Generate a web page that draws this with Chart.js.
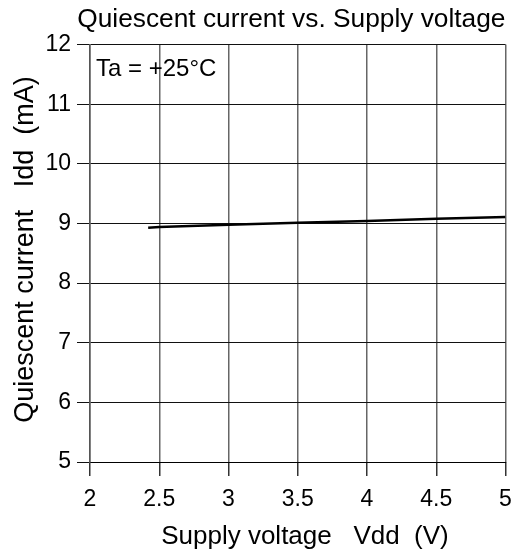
<!DOCTYPE html>
<html>
<head>
<meta charset="utf-8">
<script src="https://cdn.jsdelivr.net/npm/chart.js@4.4.1/dist/chart.umd.min.js"></script>
<style>
  html, body { margin: 0; padding: 0; background: #fff; }
  #wrap { width: 520px; height: 555px; }
</style>
</head>
<body>
<div id="wrap"><canvas id="myChart" width="520" height="555"></canvas></div>
<script>
// supply voltage (V) and quiescent current (mA)
var vdd = [2.42, 2.5, 3, 3.5, 4, 4.5, 5];
var idd = [8.93, 8.94, 8.98, 9.01, 9.04, 9.08, 9.11];
var xTicks = [2, 2.5, 3, 3.5, 4, 4.5, 5];
var yTicks = [5, 6, 7, 8, 9, 10, 11, 12];
var condition = 'Ta = +25°C';

var points = [];
for (var i = 0; i < vdd.length; i++) {
  points.push({x: vdd[i], y: idd[i]});
}

var FONT = "'Liberation Sans', Arial, sans-serif";

// condition label in the top-left corner of the plot
var conditionLabel = {
  id: 'conditionLabel',
  afterDatasetsDraw: function(chart) {
    var ctx = chart.ctx;
    var x = chart.scales.x.getPixelForValue(xTicks[0]) + 6;
    var y = chart.scales.y.getPixelForValue(yTicks[yTicks.length - 1]) + 31;
    ctx.save();
    ctx.font = '24px ' + FONT;
    ctx.fillStyle = '#000';
    ctx.textAlign = 'left';
    ctx.textBaseline = 'alphabetic';
    ctx.fillText(condition, x, y);
    ctx.restore();
  }
};

const ctx = document.getElementById('myChart');
const myChart = new Chart(ctx, {
  type: 'line',
  data: {
    datasets: [{
      data: points,
      borderColor: '#000',
      borderWidth: 2.5,
      pointRadius: 0,
      tension: 0,
      fill: false
    }]
  },
  options: {
    responsive: false,
    animation: false,
    layout: { padding: { left: 0, right: 14.5, top: 0, bottom: 0 } },
    plugins: {
      legend: { display: false },
      tooltip: { enabled: false },
      title: {
        display: true,
        text: 'Quiescent current vs. Supply voltage',
        color: '#000',
        align: 'end',
        font: { family: FONT, size: 26.3, weight: 'normal' },
        padding: { top: 4, bottom: 9 }
      }
    },
    scales: {
      x: {
        type: 'linear',
        min: 2,
        max: 5,
        afterBuildTicks: function(scale) {
          scale.ticks = xTicks.map(function(v) { return {value: v}; });
        },
        afterFit: function(scale) {
          scale.height = 93;
          scale.paddingRight = 0;
        },
        grid: { color: '#666', lineWidth: 1.5, tickLength: 14, tickColor: '#333' },
        border: { color: '#000', width: 1 },
        ticks: {
          color: '#000',
          padding: 10,
          maxRotation: 0,
          font: { family: FONT, size: 23 },
          callback: function(v) { return String(v); }
        },
        title: {
          display: true,
          text: '  Supply voltage   Vdd  (V)',
          color: '#000',
          font: { family: FONT, size: 26 },
          padding: { top: 0, bottom: 3 }
        }
      },
      y: {
        min: 5,
        max: 12,
        afterBuildTicks: function(scale) {
          scale.ticks = yTicks.map(function(v) { return {value: v}; });
        },
        afterFit: function(scale) { scale.width = 90; },
        grid: { color: '#111', lineWidth: 1, tickLength: 13, tickColor: '#111' },
        border: { color: '#555', width: 1.5 },
        ticks: {
          color: '#000',
          padding: 6,
          font: { family: FONT, size: 23 }
        },
        title: {
          display: true,
          text: ' Quiescent current   Idd  (mA)',
          color: '#000',
          font: { family: FONT, size: 27 },
          padding: { top: 9, bottom: 0 }
        }
      }
    }
  },
  plugins: [conditionLabel]
});
</script>
</body>
</html>
